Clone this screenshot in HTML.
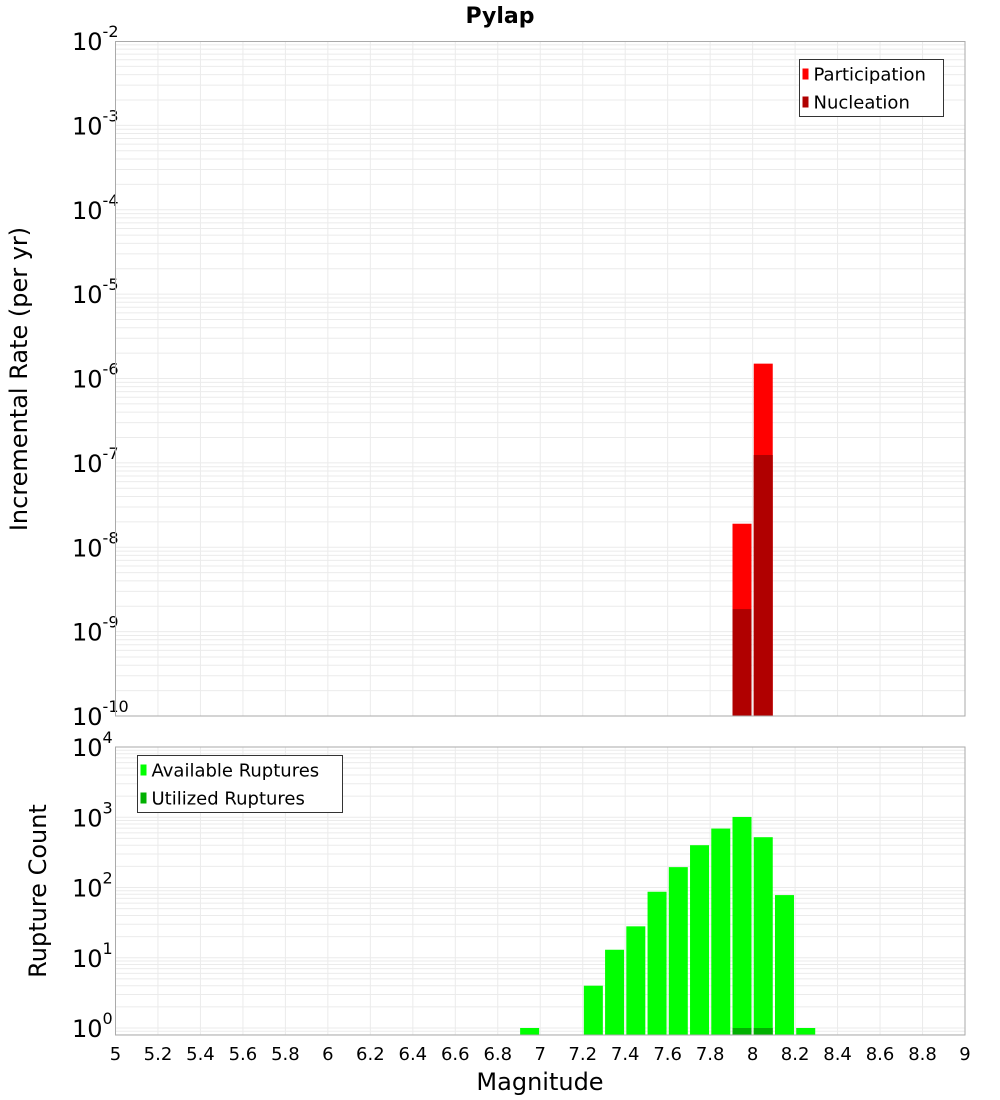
<!DOCTYPE html>
<html><head><meta charset="utf-8"><style>
body{margin:0;background:#fff;}
svg{display:block;font-family:"DejaVu Sans","Liberation Sans",sans-serif;}
</style></head><body>
<svg id="chart" width="1000" height="1100" viewBox="0 0 1000 1100" xmlns="http://www.w3.org/2000/svg">
<text x="500" y="23" text-anchor="middle" font-size="22" font-weight="bold">Pylap</text>
<g id="topPanel"></g>
<g id="botPanel"></g>
<text transform="translate(27,379) rotate(-90)" text-anchor="middle" font-size="24">Incremental Rate (per yr)</text>
<text transform="translate(46,891) rotate(-90)" text-anchor="middle" font-size="24">Rupture Count</text>
<text x="540" y="1090" text-anchor="middle" font-size="24">Magnitude</text>
</svg>
<script>
const magBins = [6.95,7.25,7.35,7.45,7.55,7.65,7.75,7.85,7.95,8.05,8.15,8.25];
const availableCounts = [1,4,13,28,87,195,400,690,1010,520,78,1];
const utilizedBins = [7.95,8.05];
const utilizedCounts = [1,1];
const rateBins = [7.95,8.05];
const participationRates = [1.9e-8,1.5e-6];
const nucleationRates = [1.85e-9,1.24e-7];
const xTicks = [5,5.2,5.4,5.6,5.8,6,6.2,6.4,6.6,6.8,7,7.2,7.4,7.6,7.8,8,8.2,8.4,8.6,8.8,9];
const xTickLabels = ["5","5.2","5.4","5.6","5.8","6","6.2","6.4","6.6","6.8","7","7.2","7.4","7.6","7.8","8","8.2","8.4","8.6","8.8","9"];
const topExps = [-10,-9,-8,-7,-6,-5,-4,-3,-2];
const botExps = [0,1,2,3,4];

const NS="http://www.w3.org/2000/svg";
const X0=115.5,X1=965,XMIN=5,XMAX=9;
const xs=v=>X0+(v-XMIN)/(XMAX-XMIN)*(X1-X0);
const topY=v=>716-(Math.log10(v)+10)*84.375;
const botY=v=>1028-Math.log10(v)*70.25;
function mk(p,tag,a){const e=document.createElementNS(NS,tag);for(const k in a)e.setAttribute(k,a[k]);p.appendChild(e);return e;}

function panel(g,yT,yB,yfn,exps,name){
  const bg=mk(g,'rect',{x:X0,y:yT,width:X1-X0,height:yB-yT,fill:'#fff'});
  
  
  for(let i=0;i<exps.length;i++){
    for(let m=1;m<10;m++){
      const y=yfn(m*Math.pow(10,exps[i]));
      if(y<yT-0.1||y>yB+0.1)continue;
      mk(g,'line',{x1:X0,x2:X1,y1:y,y2:y,stroke:'#ebebeb','stroke-width':1});
    }
  }
  for(let m=2;m<10;m++){const y=yfn(m*Math.pow(10,exps[0]-1));if(y>=yT&&y<=yB)mk(g,'line',{x1:X0,x2:X1,y1:y,y2:y,stroke:'#ebebeb'});}
  for(let i=0;i<xTicks.length;i++){const x=xs(xTicks[i]);mk(g,'line',{x1:x,x2:x,y1:yT,y2:yB,stroke:'#ebebeb'});}
  for(let i=0;i<exps.length;i++){
    const y=yfn(Math.pow(10,exps[i]));
    const t=mk(g,'text',{x:72,y:y+9,'font-size':24});
    
    
    t.textContent='10';
    const s=mk(t,'tspan',{dy:-13,'font-size':16});
    s.textContent=String(exps[i]);
  }
}
const topG=document.getElementById('topPanel'),botG=document.getElementById('botPanel');
panel(topG,41.5,716,topY,topExps,'top');
panel(botG,747,1035,botY,botExps,'bottom');
const bw=19;
for(let i=0;i<rateBins.length;i++){
  const x=xs(rateBins[i])-bw/2;
  const r=mk(topG,'rect',{x:x,y:topY(participationRates[i]),width:bw,height:716-topY(participationRates[i]),fill:'#ff0000'});
  
  
  const n=mk(topG,'rect',{x:x,y:topY(nucleationRates[i]),width:bw,height:716-topY(nucleationRates[i]),fill:'#b00000'});
  
  
}
for(let i=0;i<magBins.length;i++){
  const x=xs(magBins[i])-bw/2;
  const r=mk(botG,'rect',{x:x,y:botY(availableCounts[i]),width:bw,height:1035-botY(availableCounts[i]),fill:'#00ff00'});
  
  
}
for(let i=0;i<utilizedBins.length;i++){
  const x=xs(utilizedBins[i])-bw/2;
  const r=mk(botG,'rect',{x:x,y:botY(utilizedCounts[i]),width:bw,height:1035-botY(utilizedCounts[i]),fill:'#00b000'});
  
  
}
mk(topG,'rect',{x:X0,y:41.5,width:X1-X0,height:716-41.5,fill:'none',stroke:'#aaa'});
mk(botG,'rect',{x:X0,y:747,width:X1-X0,height:1035-747,fill:'none',stroke:'#aaa'});
for(let i=0;i<xTicks.length;i++){
  const t=mk(botG,'text',{x:xs(xTicks[i]),y:1060,'text-anchor':'middle','font-size':18});
  
  
  t.textContent=xTickLabels[i];
}
function legend(g,x,y,w,items,name){
  const b=mk(g,'rect',{x:x,y:y,width:w,height:57,fill:'#fff',stroke:'#333'});
  
  
  items.forEach((it,i)=>{
    mk(g,'rect',{x:x+3,y:y+9+i*28,width:6,height:11,fill:it[1]});
    const t=mk(g,'text',{x:x+14,y:y+21+i*28,'font-size':18});
    
    
    t.textContent=it[0];
  });
}
legend(topG,799.5,59.5,144,[['Participation','#ff0000'],['Nucleation','#b00000']],'top-legend');
legend(botG,137.5,755.5,205,[['Available Ruptures','#00ff00'],['Utilized Ruptures','#00b000']],'bottom-legend');
</script>
</body></html>
